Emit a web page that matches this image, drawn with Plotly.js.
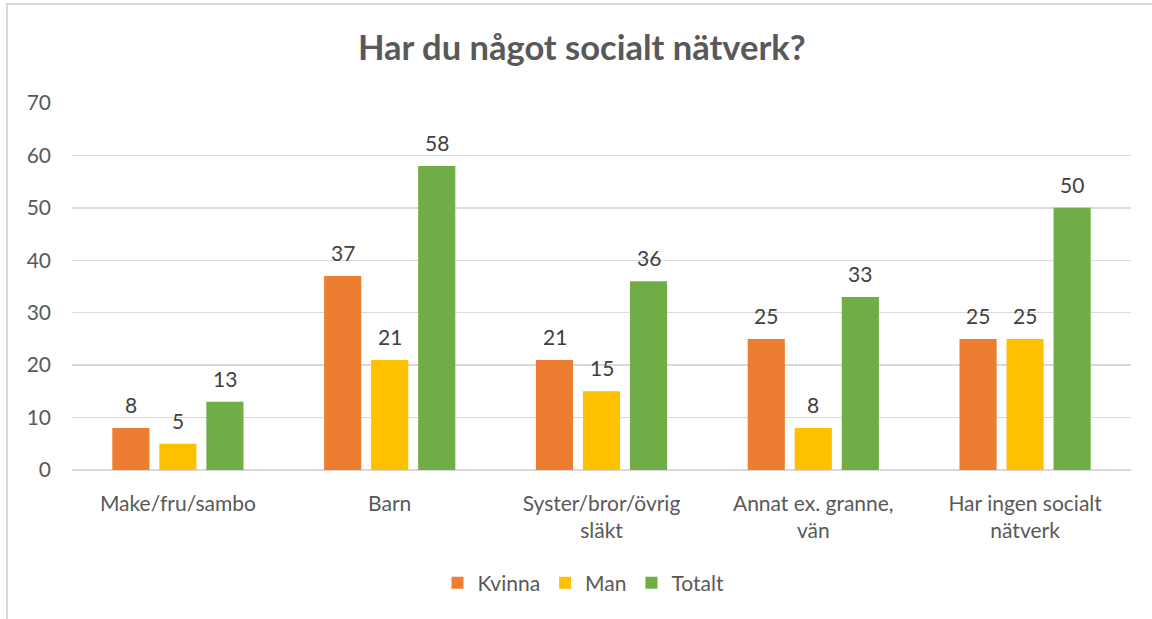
<!DOCTYPE html>
<html>
<head>
<meta charset="utf-8">
<script src="https://cdn.plot.ly/plotly-3.0.1.min.js"></script>
<style>
html,body{margin:0;padding:0;background:#fff;}
#frame{position:absolute;left:6px;top:3px;width:1200px;height:700px;border-top:2px solid #d9d9d9;border-left:2px solid #d9d9d9;}
#chart{position:absolute;left:0;top:0;width:1152px;height:619px;}
</style>
</head>
<body>
<div id="frame"></div>
<div id="chart"></div>
<script>
const categories = ["Make/fru/sambo", "Barn", "Syster/bror/övrig<br>släkt", "Annat ex. granne,<br>vän", "Har ingen socialt<br>nätverk"];
const seriesNames = ["Kvinna", "Man", "Totalt"];
const kvinna = [8, 37, 21, 25, 25];
const man = [5, 21, 15, 8, 25];
const totalt = [13, 58, 36, 33, 50];
const yTicks = [0, 10, 20, 30, 40, 50, 60, 70];

const fontFam = "Lato, 'Open Sans', sans-serif";
const colors = ['#ED7D31', '#FFC000', '#70AD47'];
const allVals = [kvinna, man, totalt];
const data = allVals.map((vals, i) => ({
  type: 'bar', name: seriesNames[i], x: categories, y: vals,
  marker: {color: colors[i]}, hoverinfo: 'none'
}));
const slotPx = 47;
const annotations = [];
allVals.forEach((vals, i) => {
  vals.forEach((v, j) => {
    annotations.push({
      x: categories[j], y: v, xref: 'x', yref: 'y',
      text: String(v), showarrow: false,
      xshift: (i - 1) * slotPx, yshift: 9, yanchor: 'bottom',
      font: {family: fontFam, size: 21, color: '#404040'}
    });
  });
});
const layout = {
  width: 1152, height: 619,
  paper_bgcolor: 'rgba(0,0,0,0)', plot_bgcolor: 'rgba(0,0,0,0)',
  margin: {l: 72, r: 21, t: 103, b: 149},
  title: {text: '<b>Har du något socialt nätverk?</b>', x: 0.505, xanchor: 'center', y: 0.922, yanchor: 'middle',
          font: {family: fontFam, size: 34.5, color: '#595959'}},
  barmode: 'group', bargap: 0.334, bargroupgap: 0.21,
  xaxis: {tickfont: {family: fontFam, size: 21, color: '#595959'}, showline: false, ticks: '',
          ticklabelstandoff: 19, fixedrange: true},
  yaxis: {range: [0, 70], tickvals: yTicks, ticktext: yTicks.map(String),
          tickfont: {family: fontFam, size: 21, color: '#595959'},
          gridcolor: '#d9d9d9', gridwidth: 1.5, zeroline: true, zerolinecolor: '#d9d9d9', zerolinewidth: 2,
          ticklabelstandoff: 20, fixedrange: true},
  annotations: annotations,
  showlegend: true,
  legend: {orientation: 'h', x: 0.483, xanchor: 'center', y: -0.308, yanchor: 'middle',
           font: {family: fontFam, size: 21, color: '#595959'}, itemclick: false, itemdoubleclick: false}
};
Plotly.newPlot('chart', data, layout, {displayModeBar: false, staticPlot: true});
</script>
</body>
</html>
